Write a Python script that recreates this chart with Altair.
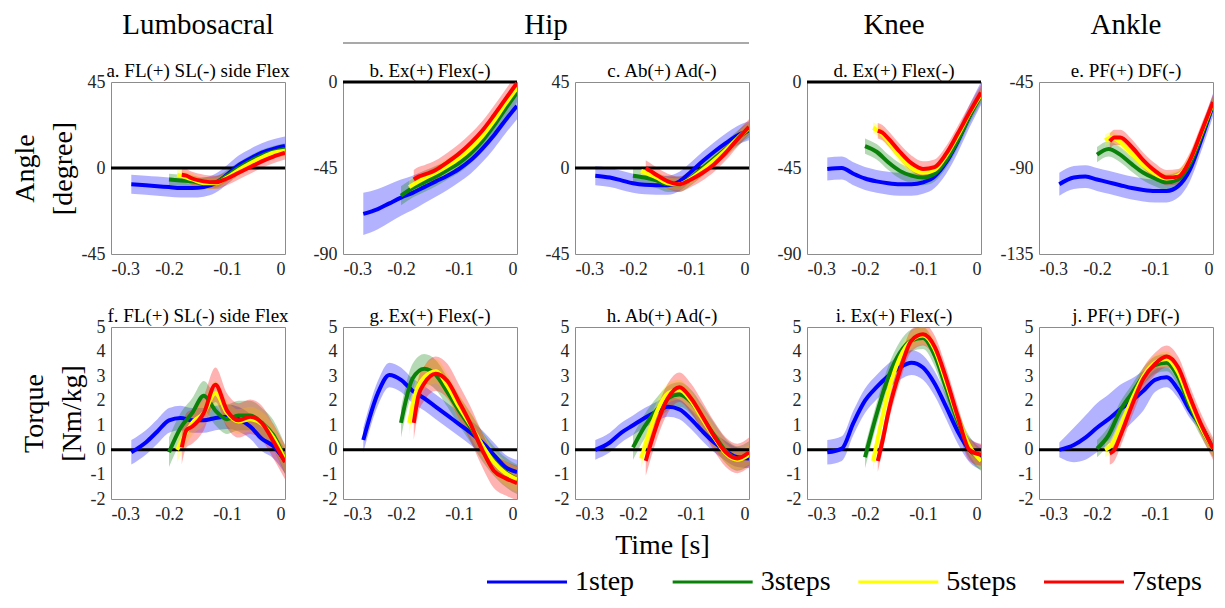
import altair as alt
import pandas as pd

FONT = "Liberation Serif"
SERIES = ["1step", "3steps", "5steps", "7steps"]
COLORS = ["#0000ff", "#0a820a", "#ffff00", "#ff0000"]

# time grids of the four series (s)
T1 = [-0.265, -0.24, -0.22, -0.20, -0.18, -0.16, -0.14, -0.12, -0.10, -0.08, -0.06, -0.04, -0.02, 0.0]
T3 = [-0.20, -0.18, -0.16, -0.14, -0.12, -0.10, -0.08, -0.06, -0.04, -0.02, 0.0]
T5 = [-0.186, -0.175, -0.16, -0.14, -0.12, -0.10, -0.08, -0.06, -0.04, -0.02, 0.0]
T7 = [-0.178, -0.17, -0.16, -0.14, -0.12, -0.10, -0.08, -0.06, -0.04, -0.02, 0.0]
TIMES = [T1, T3, T5, T7]

X_TICKS = [-0.3, -0.2, -0.1, 0.0]
ZERO = [0]

# a. Lumbosacral angle
A1 = [-8.5, -9, -9.5, -10, -10.5, -10.5, -10, -8, -3.5, 1.5, 5, 8, 10, 11.5]
A3 = [-6, -6.5, -7, -8, -7.5, -4, 0, 3.5, 6.5, 8.5, 10]
A5 = [-3.5, -4.5, -6, -8, -8, -5, -1, 2.5, 5.5, 8, 9]
A7 = [-3.5, -4, -5.5, -7, -7.5, -5.5, -2.5, 0.5, 3.5, 6, 8]
A_SD = [5, 3, 3, 3.5]
# b. Hip Ex/Flex angle
B1 = [-69, -66.5, -63.5, -60.5, -58, -55, -52, -49, -45.5, -41, -35, -28, -20, -12.5]
B3 = [-59.5, -55.5, -52.5, -49.5, -46, -42.5, -37.5, -31, -23, -14, -5.5]
B5 = [-55, -53, -50.5, -47.5, -44, -40, -35, -28.5, -20.5, -11.5, -3]
B7 = [-51, -49.5, -48.5, -46, -42, -37.5, -32, -25.5, -17.5, -9, -0.5]
B_SD = [[11, 10.5, 10, 9.5, 9, 8.5, 8, 7.5, 7, 7, 7, 7, 7, 7], 5, 4, 5]
# c. Hip Ab/Ad angle
C1 = [-4, -5, -6.5, -8, -8.8, -9, -9, -7, -2, 3.5, 8.5, 13, 17, 19.5]
C3 = [-4, -5, -6.5, -8.5, -8.5, -5, 0, 5, 10, 15.5, 20]
C5 = [-1.5, -3, -5, -8, -8.5, -5.5, -1, 4, 9.5, 15.5, 21]
C7 = [0, -1.5, -3.5, -7, -8.5, -6, -2.5, 2, 8, 15, 21.5]
C_SD = [5, 4, 3, 4]
# d. Knee angle
D1 = [-45.5, -45, -48, -50.5, -52, -53, -53.5, -53.5, -52.5, -49.5, -42, -31, -18, -6]
D3 = [-33.5, -36.5, -42, -46.5, -49, -50, -48, -41, -30.5, -18, -7]
D5 = [-24, -26, -31, -39, -45, -47.5, -46, -38.5, -28, -16.5, -6.5]
D7 = [-25.5, -26.5, -29.5, -36.5, -42.5, -45.5, -44.5, -37.5, -27, -16, -5.5]
D_SD = [6, 4, 3, 4]
# e. Ankle angle
E1 = [-98.5, -95, -94.5, -96, -97.5, -99, -100.5, -101.5, -102, -102, -99.5, -91, -75, -57]
E3 = [-83, -80, -83, -88, -92.5, -95.5, -97.5, -96, -88, -73, -56.5]
E5 = [-75.5, -74, -76.5, -82.5, -88.5, -93, -95.5, -94, -86, -71.5, -56]
E7 = [-76, -74, -74, -79, -86, -91.5, -95, -94.5, -86, -71, -55.5]
E_SD = [6, 4, 3, 4]
# f. Lumbosacral torque
F1 = [-0.1, 0.3, 0.75, 1.2, 1.3, 1.2, 1.2, 1.3, 1.35, 1.25, 0.95, 0.45, 0.15, -0.45]
F3 = [-0.1, 0.9, 1.5, 2.2, 1.6, 1.25, 1.4, 1.4, 1.1, 0.6, -0.4]
F5 = [0.0, 0.5, 1.1, 1.5, 2.3, 1.5, 1.15, 1.25, 1.05, 0.5, -0.4]
F7 = [0.1, 0.8, 0.95, 1.5, 2.65, 1.6, 1.2, 1.35, 1.1, 0.35, -0.5]
F_SD = [0.5, 0.6, 0.5, 0.7]
# g. Hip Ex/Flex torque
G1 = [0.4, 2.3, 3.05, 2.85, 2.4, 2.1, 1.75, 1.4, 1.05, 0.7, 0.3, -0.2, -0.7, -0.9]
G3 = [1.1, 2.9, 3.3, 3.05, 2.35, 1.6, 0.9, 0.15, -0.45, -0.9, -1.2]
G5 = [1.1, 2.3, 2.95, 3.2, 2.6, 1.75, 1.0, 0.2, -0.5, -0.95, -1.2]
G7 = [1.1, 2.2, 2.7, 3.1, 2.8, 1.95, 1.05, 0.0, -0.85, -1.15, -1.35]
G_SD = [0.5, 0.6, 0.5, 0.7]
# h. Hip Ab/Ad torque
H1 = [0.0, 0.3, 0.7, 1.0, 1.3, 1.55, 1.75, 1.65, 1.25, 0.75, 0.3, -0.05, -0.3, -0.35]
H3 = [0.1, 0.95, 1.6, 2.1, 2.25, 1.95, 1.3, 0.6, -0.05, -0.35, -0.15]
H5 = [-0.35, 0.5, 1.5, 2.3, 2.45, 2.0, 1.25, 0.5, -0.15, -0.4, -0.2]
H7 = [-0.45, 0.2, 0.95, 2.1, 2.55, 2.1, 1.35, 0.55, -0.1, -0.35, -0.1]
H_SD = [0.4, 0.5, 0.4, 0.6]
# i. Knee torque
I1 = [-0.1, 0.05, 1.1, 2.0, 2.55, 3.0, 3.35, 3.55, 3.35, 2.7, 1.75, 0.75, 0.0, -0.3]
I3 = [-0.3, 1.45, 2.95, 3.95, 4.45, 4.55, 3.85, 2.5, 1.15, 0.1, -0.4]
I5 = [-0.45, 0.8, 2.35, 3.75, 4.45, 4.65, 4.1, 2.75, 1.3, 0.15, -0.45]
I7 = [-0.45, 0.35, 1.5, 3.2, 4.45, 4.7, 4.2, 2.9, 1.35, 0.0, -0.2]
I_SD = [0.5, 0.45, 0.35, 0.45]
# j. Ankle torque
J1 = [0.0, 0.2, 0.5, 0.9, 1.25, 1.65, 2.0, 2.4, 2.85, 2.95, 2.45, 1.6, 0.95, 0.05]
J3 = [0.05, 0.6, 1.6, 2.3, 3.0, 3.45, 3.55, 2.95, 1.8, 0.85, 0.05]
J5 = [0.0, 0.2, 0.95, 2.05, 3.0, 3.55, 3.7, 3.15, 1.95, 0.9, 0.05]
J7 = [-0.15, 0.0, 0.55, 1.8, 2.9, 3.5, 3.8, 3.35, 2.15, 1.0, 0.05]
J_SD = [[0.3, 0.7, 0.9, 1.0, 1.0, 1.0, 0.9, 0.8, 0.5, 0.4, 0.35, 0.3, 0.2, 0.15], 0.35, 0.3, 0.45]

ANGLE_TICKS_A = [-45, 0, 45]
ANGLE_TICKS_B = [-90, -45, 0]
ANGLE_TICKS_E = [-135, -90, -45]
TORQUE_TICKS = [-2, -1, 0, 1, 2, 3, 4, 5]

HEADERS = ["Lumbosacral", "Hip", "Knee", "Ankle"]
PANEL_TITLES = [
    "a. FL(+) SL(-) side Flex", "b. Ex(+) Flex(-)", "c. Ab(+) Ad(-)", "d. Ex(+) Flex(-)",
    "e. PF(+) DF(-)", "f. FL(+) SL(-) side Flex", "g. Ex(+) Flex(-)", "h. Ab(+) Ad(-)",
    "i. Ex(+) Flex(-)", "j. PF(+) DF(-)",
]
X_TITLE = "Time [s]"

W = 174
H = 172
HS = 58
VS = 73

X_LABEL = "datum.value < 0 ? '-' + format(abs(datum.value), '.1f') : '0'"
Y_LABEL = "datum.value < 0 ? '-' + abs(datum.value) : '' + datum.value"

COLOR_SCALE = alt.Scale(domain=SERIES, range=COLORS)


def panel(title, means, sds, ydom, yticks, ytitle=None, head=None, head_x=W / 2, rule_w=0,
          xtitle=None):
    rows = []
    for s, times, m, sd in zip(SERIES, TIMES, means, sds):
        sdl = sd if isinstance(sd, list) else [sd] * len(times)
        for t, v, e in zip(times, m, sdl):
            rows.append({"series": s, "t": t, "mean": v, "lo": v - e, "hi": v + e})
    df = pd.DataFrame(rows)
    xkw = dict(values=X_TICKS, labelExpr=X_LABEL, title=None)
    if xtitle:
        xkw.update(title=xtitle, titleFontSize=28, titlePadding=8)
    xenc = alt.X("t:Q", scale=alt.Scale(domain=[-0.3, 0], nice=False, zero=False),
                 axis=alt.Axis(**xkw))
    ysc = alt.Scale(domain=ydom, nice=False, zero=False)
    akw = dict(values=yticks, labelExpr=Y_LABEL, title=None)
    if ytitle:
        akw.update(title=ytitle, titleLineHeight=38, titlePadding=4)
    yaxis = alt.Axis(**akw)
    band = alt.Chart(df).mark_area(interpolate="monotone", opacity=0.3, clip=True).encode(
        x=xenc,
        y=alt.Y("lo:Q", scale=ysc, axis=yaxis),
        y2="hi:Q",
        fill=alt.Fill("series:N", scale=COLOR_SCALE, legend=None),
    )
    line = alt.Chart(df).mark_line(interpolate="monotone", strokeWidth=4, clip=True).encode(
        x=xenc,
        y=alt.Y("mean:Q", scale=ysc, axis=yaxis),
        color=alt.Color("series:N", scale=COLOR_SCALE, legend=None),
    )
    layers = [band]
    if ydom[0] <= 0 <= ydom[1]:
        layers.append(
            alt.Chart(pd.DataFrame({"z": ZERO})).mark_rule(color="black", strokeWidth=3).encode(
                y=alt.Y("z:Q", scale=ysc, axis=yaxis)
            )
        )
    layers.append(line)
    layers.append(
        alt.Chart(pd.DataFrame({"name": [title]})).mark_text(
            font=FONT, fontSize=19, align="center", baseline="alphabetic", color="black"
        ).encode(text="name:N", x=alt.value(W / 2), y=alt.value(-5))
    )
    if head:
        layers.append(
            alt.Chart(pd.DataFrame({"name": [head]})).mark_text(
                font=FONT, fontSize=29, align="center", baseline="middle", color="black"
            ).encode(text="name:N", x=alt.value(head_x), y=alt.value(-57))
        )
    if rule_w:
        layers.append(
            alt.Chart(pd.DataFrame({"h": ZERO})).mark_rule(color="#8c8c8c", strokeWidth=1.5).encode(
                x=alt.value(0), x2=alt.value(rule_w), y=alt.value(-39)
            )
        )
    return alt.layer(*layers).properties(width=W, height=H)


ANG = ["Angle", "[degree]"]
TOR = ["Torque", "[Nm/kg]"]
T = PANEL_TITLES

pa = panel(T[0], [A1, A3, A5, A7], A_SD, [-45, 45], ANGLE_TICKS_A, ANG, head=HEADERS[0])
pb = panel(T[1], [B1, B3, B5, B7], B_SD, [-90, 0], ANGLE_TICKS_B,
           head=HEADERS[1], head_x=W + HS / 2, rule_w=2 * W + HS)
pc = panel(T[2], [C1, C3, C5, C7], C_SD, [-45, 45], ANGLE_TICKS_A)
pd_ = panel(T[3], [D1, D3, D5, D7], D_SD, [-90, 0], ANGLE_TICKS_B, head=HEADERS[2])
pe = panel(T[4], [E1, E3, E5, E7], E_SD, [-135, -45], ANGLE_TICKS_E, head=HEADERS[3])
pf = panel(T[5], [F1, F3, F5, F7], F_SD, [-2, 5], TORQUE_TICKS, TOR)
pg = panel(T[6], [G1, G3, G5, G7], G_SD, [-2, 5], TORQUE_TICKS)
ph = panel(T[7], [H1, H3, H5, H7], H_SD, [-2, 5], TORQUE_TICKS, xtitle=X_TITLE)
pi = panel(T[8], [I1, I3, I5, I7], I_SD, [-2, 5], TORQUE_TICKS)
pj = panel(T[9], [J1, J3, J5, J7], J_SD, [-2, 5], TORQUE_TICKS)

grid = alt.concat(
    pa, pb, pc, pd_, pe, pf, pg, ph, pi, pj,
    columns=5, spacing={"row": VS, "column": HS}, bounds="flush",
)

# legend row: one entry per series, placed by a point scale under the panels
LEG_DF = pd.DataFrame({"series": SERIES})
LEG_W = 5 * W + 4 * HS
LEG_H = 26
leg_x = alt.X("series:N", scale=alt.Scale(domain=SERIES, range=[416, 973], padding=0), axis=None)
leg_lines = alt.Chart(LEG_DF).mark_point(
    shape="stroke", size=6400, strokeWidth=3, opacity=1, filled=False
).encode(
    x=leg_x, y=alt.value(LEG_H / 2), color=alt.Color("series:N", scale=COLOR_SCALE, legend=None)
)
leg_text = alt.Chart(LEG_DF).mark_text(
    align="left", baseline="middle", dx=48, font=FONT, fontSize=28, color="black"
).encode(x=leg_x, y=alt.value(LEG_H / 2), text="series:N")
legend_row = alt.layer(leg_lines, leg_text).properties(
    width=LEG_W, height=LEG_H, view=alt.ViewBackground(strokeOpacity=0)
)

chart = alt.vconcat(grid, legend_row, spacing=8).properties(
    padding={"left": 2, "top": 2, "right": 2, "bottom": 2}
).configure(font=FONT).configure_view(
    stroke="#8c8c8c", strokeWidth=1
).configure_axis(
    labelFont=FONT, labelFontSize=18, labelColor="#262626", ticks=False, domain=False,
    grid=False, labelPadding=6, titleFont=FONT, titleFontSize=28, titleFontWeight="normal",
    titleColor="black",
)

chart.save("out.html", embed_options={"renderer": "svg", "actions": False})
